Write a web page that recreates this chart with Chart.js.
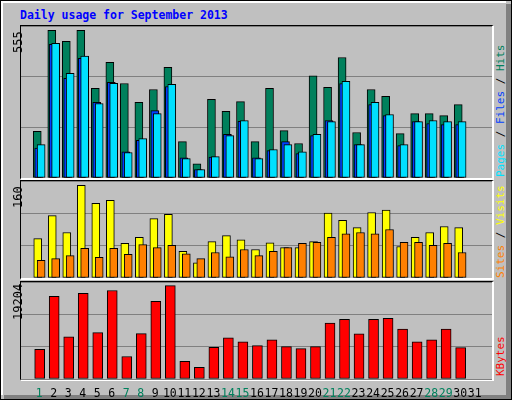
<!DOCTYPE html>
<html><head><meta charset="utf-8">
<script src="https://cdn.jsdelivr.net/npm/chart.js@4"></script>
<style>
html,body{margin:0;padding:0;background:#fff;}
#frame{position:absolute;left:0;top:0;width:510px;height:398px;background:#C0C0C0;border:1px solid #000;overflow:hidden;font-family:"DejaVu Sans Mono",monospace;}
#sh1{position:absolute;left:505px;top:3px;width:5px;height:395px;background:#808080;}
#sh2{position:absolute;left:3px;top:394px;width:507px;height:4px;background:#808080;}
#hl{position:absolute;left:0;top:0;width:505px;height:394px;border-left:2px solid #fff;border-top:2px solid #fff;box-sizing:border-box;}
.title{position:absolute;left:19px;top:7px;color:#0000FF;font-weight:bold;font-size:11.5px;}
.pl{position:absolute;left:19px;width:471px;border-left:1px solid #000;border-top:1px solid #000;border-right:2px solid #fff;border-bottom:2px solid #fff;}
.vl{position:absolute;font-size:12px;transform:rotate(-90deg);transform-origin:0 0;white-space:nowrap;}
canvas{display:block;}
</style></head><body>
<div id="frame">
<div id="hl"></div><div id="sh1"></div><div id="sh2"></div>
<div class="title">Daily usage for September 2013</div>
<div class="pl" style="top:24px;height:152px"><canvas id="c1"></canvas></div>
<div class="pl" style="top:179px;height:97px"><canvas id="c2"></canvas></div>
<div class="pl" style="top:280px;height:97px"></div>
<div style="position:absolute;left:20px;top:281px;width:471px;height:117px"><canvas id="c3"></canvas></div>
<div class="vl" style="left:10px;top:52px">555</div>
<div class="vl" style="left:10px;top:207px">160</div>
<div class="vl" style="left:10px;top:319px">19204</div>
<div class="vl" style="left:493px;top:176px;font-size:11px"><span style="color:#00E0FF">Pages</span> / <span style="color:#0040FF">Files</span> / <span style="color:#00805C">Hits</span></div>
<div class="vl" style="left:493px;top:277px;font-size:11px"><span style="color:#FF8000">Sites</span> / <span style="color:#FFFF00">Visits</span></div>
<div class="vl" style="left:493px;top:375px;font-size:11px"><span style="color:#FF0000">KBytes</span></div>
</div>
<script>
const days = [1,2,3,4,5,6,7,8,9,10,11,12,13,14,15,16,17,18,19,20,21,22,23,24,25,26,27,28,29,30];
const dayLabels = ['1','2','3','4','5','6','7','8','9','10','11','12','13','14','15','16','17','18','19','20','21','22','23','24','25','26','27','28','29','30','31'];
const weekendDays = [1,7,8,14,15,21,22,28,29];
const hits  = [170,539,499,539,327,422,345,276,323,404,133,52,287,243,279,133,327,173,126,373,331,440,166,323,298,162,235,235,228,268];
const files = [109,488,364,437,276,349,96,138,246,334,74,31,76,159,207,74,100,133,89,155,210,345,122,268,228,118,206,199,195,195];
const pages = [122,492,382,445,272,346,93,144,235,342,71,31,78,155,210,71,104,122,96,159,206,353,122,276,232,122,206,210,206,206];
const visits = [65,103,75,153,123,128,57,67,98,105,44,25,60,70,63,47,58,50,50,60,107,95,83,108,112,52,67,75,85,83];
const sites  = [29,32,37,49,34,49,39,55,50,54,40,32,42,35,47,37,44,50,57,59,67,73,75,73,80,59,59,54,57,42];
const kbytes = [5884,16359,8341,16941,9182,17523,4462,8988,15389,18493,3492,2328,6272,8147,7371,6595,7759,6401,6013,6401,11057,11833,8923,11833,12027,9893,7371,7759,9893,6207];
const maxTop = 555, maxMid = 160, maxBot = 19204;

const PX = 15; // pixels per day slot
function ds(vals, off, color, thick, order){
  return {data: vals.map((v,i)=>({x: days[i] + off/PX, y: v})), backgroundColor: color, order,
    borderColor:'#000', borderWidth:1, borderSkipped:false, barThickness: thick, grouped:false};
}
function mk(id, w, h, datasets, max, showX){
  const c = document.getElementById(id); c.width=w; c.height=h; c.style.width=w+'px'; c.style.height=h+'px';
  const x = {type:'linear', min:0.27, max:31.67, display:showX,
           grid:{display:false}, border:{display:false},
           afterBuildTicks: s => { s.ticks = dayLabels.map((l,i)=>({value:i+1})); },
           ticks:{autoSkip:false, maxRotation:0, padding:0,
             font:{family:'DejaVu Sans Mono', size:11.5},
             color: ctx => weekendDays.includes(ctx.tick.value) ? '#00805C' : '#000',
             callback: v => dayLabels[v-1]}};
  if (showX) x.afterFit = s => { s.height = 20; };
  return new Chart(c, {type:'bar', data:{datasets},
    options:{responsive:false, animation:false, devicePixelRatio:1,
      layout:{padding:0},
      datasets:{bar:{grouped:false}},
      plugins:{legend:{display:false}, tooltip:{enabled:false}},
      scales:{
        x,
        y:{min:0, max:max, ticks:{display:false, stepSize:max/3, padding:0}, border:{display:false},
           afterFit: s => { s.width = 0; },
           grid:{color:'#808080', lineWidth:1, drawTicks:false}}
      }}});
}
mk('c1', 471, 152, [ds(hits,-2,'#00805C',8,3), ds(files,-0.5,'#0040FF',8,2), ds(pages,2,'#00E0FF',8,1)], maxTop, false);
mk('c2', 471, 97, [ds(visits,-1.5,'#FFFF00',8,2), ds(sites,2,'#FF8000',8,1)], maxMid, false);
mk('c3', 471, 117, [ds(kbytes,0.5,'#FF0000',10,1)], maxBot, true);
</script>
</body></html>
